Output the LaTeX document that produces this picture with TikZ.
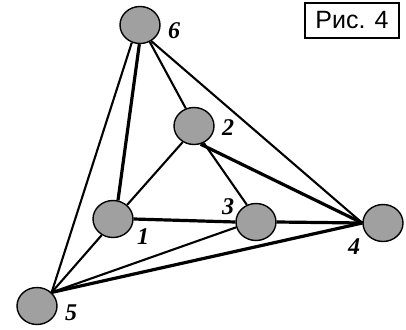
\documentclass[tikz,border=0pt]{standalone}
\usepackage{fontspec}
\newfontfamily\numfont{Liberation Serif}
\newfontfamily\capfont{Liberation Sans}
\definecolor{VertexGray}{RGB}{160, 160, 160}
\usetikzlibrary{shapes.geometric, positioning}
\tikzset{
  vertex/.style={ellipse, draw=black, line width=1.4pt, fill=VertexGray,
    minimum width=40pt, minimum height=37pt, inner sep=0pt},
  numlabel/.style={inner sep=0pt, font=\numfont\fontsize{24}{24}\selectfont\bfseries\itshape},
  thinedge/.style={line width=2.1pt},
  thickedge/.style={line width=3.2pt}
}
\begin{document}
\begin{tikzpicture}[x=1pt, y=-1pt]
    \useasboundingbox (0,0) rectangle (406,329);
    % vertices
    \node[vertex] (n6) at (140,25) {};
    \node[vertex] (n2) at (194,126) {};
    \node[vertex] (n1) at (113,219) {};
    \node[vertex] (n3) at (256,222) {};
    \node[vertex] (n4) at (383,223) {};
    \node[vertex] (n5) at (37,306) {};
    % numbers
    \node[numlabel] (l6) at (174,31) {6};
    \node[numlabel] (l2) at (228,128) {2};
    \node[numlabel] (l3) at (228,207) {3};
    \node[numlabel] (l1) at (143,237) {1};
    \node[numlabel] (l4) at (354,247) {4};
    \node[numlabel] (l5) at (71,313) {5};
    % edges
    \draw[thinedge] (n6.245) -- (n5.north east);
    \draw[thickedge] (n6.268) -- (n1.75);
    \draw[thinedge] (n6.300) -- (n2.115);
    \draw[thinedge] (n6.305) -- (n4.west);
    \draw[thinedge] (n2.235) -- (n1.45);
    \draw[thinedge] (n2.300) -- (n3.118);
    \draw[thickedge] (n2.290) -- (n4.west);
    \draw[thickedge] (n1.east) -- (n3.west);
    \draw[thickedge] (n3.east) -- (n4.west);
    \draw[thinedge] (n1.235) -- (n5.north east);
    \draw[thinedge] (n3.195) -- (n5.north east);
    \draw[thickedge] (n4.west) -- (n5.north east);
    % caption box
    \node[draw=black, line width=1.5pt, minimum width=94pt, minimum height=35pt,
      inner sep=0pt, font=\capfont\fontsize{25}{25}\selectfont] (cap) at (352,20.5) {Рис. 4};
\end{tikzpicture}
\end{document}
